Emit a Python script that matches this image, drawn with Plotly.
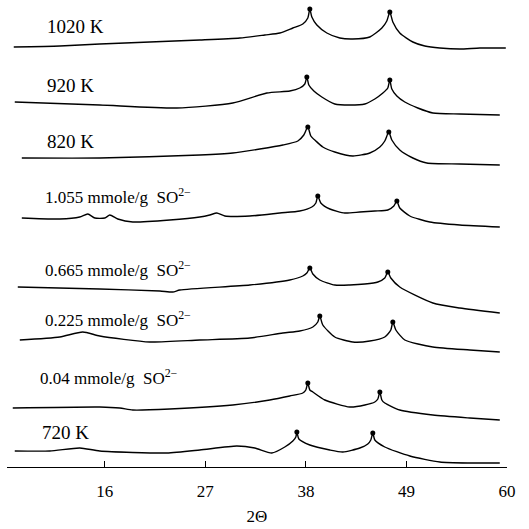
import plotly.graph_objects as go

# Stacked XRD patterns: 2θ (degrees) and relative intensity (arbitrary units)
labels = [
    "1020 K",
    "920 K",
    "820 K",
    "1.055 mmole/g\u00a0 SO<sup>2−</sup>",
    "0.665 mmole/g\u00a0 SO<sup>2−</sup>",
    "0.225 mmole/g\u00a0 SO<sup>2−</sup>",
    "0.04 mmole/g\u00a0 SO<sup>2−</sup>",
    "720 K",
]

tt_1020 = [6.04, 11.08, 15.45, 20.92, 26.39, 30.77, 33.51, 35.15, 36.57, 37.66, 38.21, 38.43, 38.65, 39.20, 40.29,
           41.71, 43.13, 44.99, 46.31, 46.85, 47.18, 47.51, 48.27, 49.70, 51.01, 52.65, 54.84, 57.03, 59.87]
i_1020 = [3, 4, 6, 8, 10, 12, 15, 17, 22, 26, 32, 41, 33, 25, 17,
          12, 11, 13, 22, 29, 38, 28, 17, 8, 4, 2, 1, 2, 2]

tt_920 = [6.15, 15.45, 23.88, 30.00, 33.73, 36.24, 37.33, 37.88, 38.10, 38.32, 38.87, 39.74, 41.16, 42.80, 44.45,
          45.54, 46.42, 46.96, 47.18, 47.40, 47.95, 48.82, 50.24, 51.89, 54.84, 59.21]
i_920 = [13, 10, 7, 12, 22, 24, 27, 31, 38, 30, 24, 18, 11, 10, 11,
         16, 22, 27, 35, 26, 19, 13, 7, 2, 1, 0]

tt_820 = [6.92, 15.45, 26.39, 30.00, 32.96, 35.48, 37.12, 37.77, 38.21, 38.54, 39.09, 39.85, 41.16, 43.13, 44.99,
          46.09, 46.63, 47.07, 47.40, 48.27, 49.70, 51.23, 54.84, 59.21]
i_820 = [7, 7, 10, 12, 16, 20, 24, 30, 38, 29, 24, 18, 13, 9, 12,
         18, 24, 33, 25, 15, 7, 2, 1, 0]

tt_1055 = [6.92, 11.08, 13.26, 14.14, 14.91, 16.00, 16.55, 17.42, 19.06, 23.11, 26.39, 27.49, 28.25, 29.13, 31.86,
           35.15, 37.33, 38.65, 39.09, 39.30, 39.63, 40.62, 42.26, 43.90, 45.54, 46.96, 47.62, 47.95, 48.27, 49.37,
           51.56, 54.84, 59.21]
i_1055 = [9, 8, 10, 13, 9, 9, 12, 8, 5, 7, 10, 12, 14, 11, 11,
          14, 16, 20, 24, 31, 24, 18, 14, 15, 16, 17, 21, 26, 19, 11,
          5, 2, 0]

tt_0665 = [6.48, 15.45, 22.02, 23.44, 24.21, 31.86, 36.24, 37.66, 38.10, 38.43, 38.76, 39.52, 41.16, 42.80, 44.45,
           45.87, 46.63, 46.96, 47.29, 48.27, 51.89, 54.84, 59.21]
i_0665 = [26, 24, 22, 21, 23, 28, 33, 37, 40, 45, 39, 33, 28, 28, 29,
          31, 35, 41, 35, 26, 10, 5, 0]

tt_0225 = [6.70, 11.08, 13.59, 15.45, 20.92, 26.39, 31.86, 35.48, 37.33, 38.76, 39.30, 39.52, 39.85, 41.16, 43.13,
           44.99, 46.63, 47.29, 47.51, 47.84, 48.82, 51.89, 55.93, 59.21]
i_0225 = [12, 15, 20, 16, 10, 12, 14, 19, 21, 25, 30, 36, 27, 15, 10,
          11, 15, 22, 30, 22, 12, 5, 2, 0]

tt_004 = [5.93, 15.45, 17.64, 19.06, 23.11, 30.00, 34.05, 36.24, 37.66, 37.99, 38.21, 38.43, 38.76, 40.07, 42.80,
          44.45, 45.54, 45.87, 46.09, 46.31, 46.63, 48.27, 51.89, 55.93, 59.21]
i_004 = [12, 13, 12, 10, 11, 15, 20, 24, 27, 30, 37, 30, 28, 20, 13,
         15, 18, 21, 28, 20, 17, 10, 5, 2, 0]

tt_720 = [6.15, 9.98, 13.26, 15.45, 22.78, 26.39, 30.44, 32.41, 34.27, 35.69, 36.57, 36.90, 37.01, 37.23, 38.43,
          40.62, 42.04, 43.90, 44.77, 45.10, 45.32, 45.54, 46.63, 49.37, 52.65, 55.93, 59.21]
i_720 = [12, 12, 15, 12, 10, 13, 17, 15, 10, 16, 22, 26, 31, 24, 18,
         13, 11, 15, 19, 23, 30, 23, 16, 7, 1, 0, 0]

# Reflection positions (2θ) marked with a dot on each pattern
peaks = [
    [38.43, 47.18],
    [38.10, 47.18],
    [38.21, 47.07],
    [39.30, 47.95],
    [38.43, 46.96],
    [39.52, 47.51],
    [38.21, 46.09],
    [37.01, 45.32],
]

tick_vals = [16, 27, 38, 49, 60]

two_theta = [tt_1020, tt_920, tt_820, tt_1055, tt_0665, tt_0225, tt_004, tt_720]
intensity = [i_1020, i_920, i_820, i_1055, i_0665, i_0225, i_004, i_720]

# vertical stacking of the patterns
offsets = [417, 352, 302, 240, 154, 115, 47, 4]
label_pos = [(9.5, 441), (9.5, 382), (9.5, 326), (9.2, 271),
             (9.2, 198), (9.2, 148), (8.7, 90), (8.9, 35)]
label_size = [19, 19, 19, 17, 17, 17, 17, 19]

serif = "Liberation Serif"

fig = go.Figure()
for k in range(len(labels)):
    xs = two_theta[k]
    ys = [offsets[k] + v for v in intensity[k]]
    fig.add_trace(go.Scatter(
        x=xs, y=ys, mode="lines",
        line=dict(color="black", width=1.4, shape="spline", smoothing=0.6),
        hoverinfo="skip", showlegend=False,
    ))
    py_ = [ys[xs.index(p)] for p in peaks[k]]
    fig.add_trace(go.Scatter(
        x=peaks[k], y=py_, mode="markers",
        marker=dict(color="black", size=5),
        hoverinfo="skip", showlegend=False,
    ))
    lx, ly = label_pos[k]
    fig.add_annotation(
        x=lx, y=ly, xref="x", yref="y", text=labels[k],
        showarrow=False, xanchor="left", yanchor="middle",
        font=dict(family=serif, size=label_size[k], color="black"),
    )

fig.update_layout(
    width=529, height=529,
    margin=dict(l=7, r=22, t=0, b=62),
    paper_bgcolor="white", plot_bgcolor="white",
    font=dict(family=serif, color="black"),
    xaxis=dict(
        range=[5.3, 60], showgrid=False, zeroline=False,
        showline=True, linecolor="black", linewidth=1.3,
        ticks="inside", ticklen=6, tickwidth=1.3, tickcolor="black",
        tickvals=tick_vals, ticktext=[str(v) for v in tick_vals],
        tickfont=dict(family=serif, size=17, color="black"),
        ticklabelstandoff=8,
        title=dict(text="2Θ", font=dict(family=serif, size=17, color="black"), standoff=10),
    ),
    yaxis=dict(range=[0, 467], visible=False),
)

fig.write_html("out.html")
